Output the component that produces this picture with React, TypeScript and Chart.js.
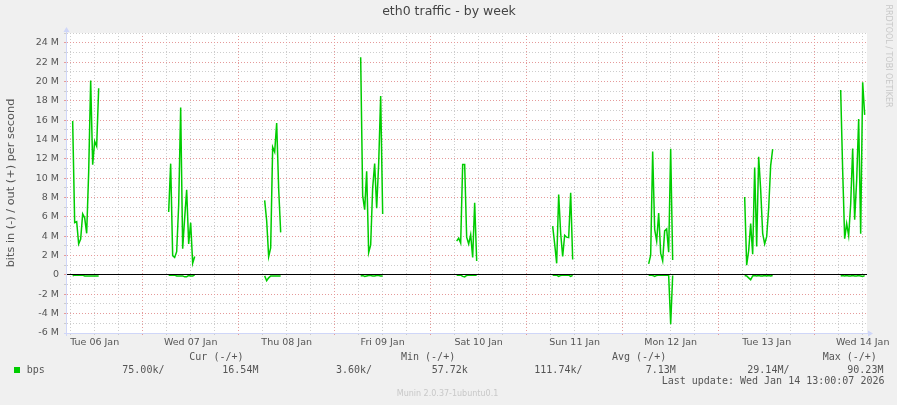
import React, { useEffect, useRef } from "react";
import { Chart, registerables } from "chart.js";

Chart.register(...registerables);

// ---------- data (values in Mbit/s, sampled every 30 min) ----------
const dayLabels = [
  "Tue 06 Jan", "Wed 07 Jan", "Thu 08 Jan", "Fri 09 Jan", "Sat 10 Jan",
  "Sun 11 Jan", "Mon 12 Jan", "Tue 13 Jan", "Wed 14 Jan",
];
// hours since Tue 06 Jan 00:00 at which each active period starts
const burstStartHours = [6.5, 30.5, 54.5, 78.5, 102.5, 126.5, 150.5, 174.5, 198.5];
const SAMPLE_STEP_HOURS = 0.5;

const outTue06 = [15.9, 5.4, 5.5, 3.2, 3.7, 6.3, 5.9, 4.3, 10.6, 20.1, 11.4, 13.8, 13.3, 19.3];
const outWed07 = [6.5, 11.5, 2.0, 1.8, 2.4, 7.2, 17.3, 2.7, 5.9, 8.8, 3.2, 5.4, 1.2, 1.9];
const outThu08 = [7.7, 5.6, 1.9, 2.8, 13.2, 12.7, 15.7, 8.9, 4.4];
const outFri09 = [22.5, 8.2, 6.75, 10.7, 2.3, 3.1, 9.0, 11.5, 6.9, 11.5, 18.5, 6.3];
const outSat10 = [3.5, 3.8, 3.3, 11.4, 11.4, 3.9, 3.2, 4.15, 1.8, 7.45, 1.45];
const outSun11 = [5.05, 3.2, 1.2, 8.3, 4.3, 1.9, 4.1, 3.9, 3.85, 8.5, 1.6];
const outMon12 = [1.15, 2.05, 12.75, 4.7, 3.5, 6.4, 2.25, 1.45, 4.55, 4.75, 2.35, 13.05, 1.55];
const outTue13 = [8.05, 1.0, 2.5, 5.3, 2.15, 11.1, 2.95, 12.2, 8.8, 4.3, 3.2, 3.95, 6.9, 11.3, 13.0];
const outWed14 = [19.1, 10.8, 3.75, 5.3, 4.05, 7.3, 13.05, 5.7, 9.8, 16.1, 4.25, 19.9, 16.54];

const inTue06 = [-0.1, -0.02, -0.02, -0.02, -0.02, -0.02, -0.1, -0.1, -0.1, -0.1, -0.1, -0.1, -0.1, -0.1];
const inWed07 = [-0.02, -0.02, -0.02, -0.02, -0.1, -0.1, -0.1, -0.1, -0.2, -0.2, -0.05, -0.1, -0.1, -0.02];
const inThu08 = [-0.1, -0.6, -0.3, -0.1, -0.1, -0.1, -0.1, -0.1, -0.1];
const inFri09 = [-0.1, -0.05, -0.15, -0.1, -0.05, -0.05, -0.1, -0.1, -0.05, -0.05, -0.1, -0.1];
const inSat10 = [-0.02, -0.02, -0.02, -0.15, -0.2, -0.05, -0.02, -0.02, -0.02, -0.02, -0.02];
const inSun11 = [-0.02, -0.02, -0.02, -0.15, -0.05, -0.02, -0.02, -0.02, -0.02, -0.15, -0.05];
const inMon12 = [-0.02, -0.02, -0.05, -0.15, -0.05, -0.02, -0.02, -0.02, -0.02, -0.02, -0.05, -5.1, -0.05];
const inTue13 = [-0.05, -0.1, -0.3, -0.5, -0.1, -0.05, -0.1, -0.05, -0.1, -0.1, -0.05, -0.1, -0.05, -0.1, -0.05];
const inWed14 = [-0.1, -0.05, -0.1, -0.05, -0.1, -0.1, -0.05, -0.1, -0.1, -0.05, -0.1, -0.15, -0.075];

const outBursts = [outTue06, outWed07, outThu08, outFri09, outSat10, outSun11, outMon12, outTue13, outWed14];
const inBursts = [inTue06, inWed07, inThu08, inFri09, inSat10, inSun11, inMon12, inTue13, inWed14];

const chartTitle = "eth0 traffic - by week";
const yAxisTitle = "bits in (-) / out (+) per second";
const sideText = "RRDTOOL / TOBI OETIKER";
const seriesName = "bps";
const legendHeaders = ["Cur (-/+)", "Min (-/+)", "Avg (-/+)", "Max (-/+)"];
const legendValues = ["75.00k/", "16.54M", "3.60k/", "57.72k", "111.74k/", "7.13M", "29.14M/", "90.23M"];
const lastUpdate = "Last update: Wed Jan 14 13:00:07 2026";
const footer = "Munin 2.0.37-1ubuntu0.1";

const X_MIN = 5.083;
const X_MAX = 205.083;
const Y_MIN = -6;
const Y_MAX = 25;

// ---------- styling ----------
const GREEN = "#00cc00";
const GRID_MINOR = "#cdcdcd";
const GRID_MAJOR = "#e59a9a";
const AXIS_COLOR = "#cfd6f8";
const FONT_COLOR = "#555555";

function buildSeries(bursts: number[][]) {
  const pts: { x: number; y: number | null }[] = [];
  bursts.forEach((vals, b) => {
    const start = burstStartHours[b];
    vals.forEach((v, k) => pts.push({ x: start + k * SAMPLE_STEP_HOURS, y: v }));
    pts.push({ x: start + vals.length * SAMPLE_STEP_HOURS, y: null });
  });
  return pts;
}

const muninPlugin = {
  id: "muninDecor",
  beforeDraw(chart: any) {
    const { ctx, chartArea: a, width, height } = chart;
    ctx.save();
    ctx.fillStyle = "#f0f0f0";
    ctx.fillRect(0, 0, width, height);
    ctx.fillStyle = "#ffffff";
    ctx.fillRect(a.left, a.top, a.right - a.left, a.bottom - a.top);
    ctx.restore();
  },
  afterDatasetsDraw(chart: any) {
    const { ctx, chartArea: a } = chart;
    const y0 = Math.round(chart.scales.y.getPixelForValue(0)) - 0.5;
    ctx.save();
    // zero line
    ctx.strokeStyle = "#000000";
    ctx.lineWidth = 1;
    ctx.setLineDash([]);
    ctx.beginPath();
    ctx.moveTo(a.left, y0);
    ctx.lineTo(a.right, y0);
    ctx.stroke();
    // axes
    ctx.strokeStyle = AXIS_COLOR;
    ctx.fillStyle = AXIS_COLOR;
    const ax = a.left - 0.5;
    const ay = a.bottom + 0.5;
    ctx.beginPath();
    ctx.moveTo(ax, a.bottom + 3);
    ctx.lineTo(ax, a.top - 2);
    ctx.moveTo(a.left - 3, ay);
    ctx.lineTo(a.right + 2, ay);
    ctx.stroke();
    ctx.beginPath();
    ctx.moveTo(ax, a.top - 6);
    ctx.lineTo(ax - 3, a.top - 1);
    ctx.lineTo(ax + 3, a.top - 1);
    ctx.closePath();
    ctx.fill();
    ctx.beginPath();
    ctx.moveTo(a.right + 6, ay);
    ctx.lineTo(a.right + 1, ay - 3);
    ctx.lineTo(a.right + 1, ay + 3);
    ctx.closePath();
    ctx.fill();
    ctx.restore();
  },
  afterDraw(chart: any) {
    const { ctx } = chart;
    ctx.save();
    ctx.textBaseline = "middle";
    // title
    ctx.fillStyle = "#444444";
    ctx.font = "12.5px 'DejaVu Sans'";
    ctx.textAlign = "center";
    ctx.fillText(chartTitle, 449, 12);
    // side text
    ctx.save();
    ctx.translate(888, 56);
    ctx.rotate(Math.PI / 2);
    ctx.fillStyle = "#c8c8c8";
    ctx.font = "8px 'DejaVu Sans'";
    ctx.fillText(sideText, 0, 0);
    ctx.restore();
    // legend
    ctx.textAlign = "left";
    ctx.fillStyle = FONT_COLOR;
    ctx.font = "10px 'DejaVu Sans Mono'";
    const headerX = [189.3, 401, 612, 822.7];
    legendHeaders.forEach((t, i) => ctx.fillText(t, headerX[i], 357.7));
    ctx.fillStyle = GREEN;
    ctx.fillRect(14, 367, 6, 6);
    ctx.fillStyle = FONT_COLOR;
    ctx.fillText(seriesName, 26.7, 370);
    const valueX = [122.3, 222.3, 336, 431.7, 534.3, 645.7, 747.3, 847.3];
    legendValues.forEach((t, i) => ctx.fillText(t, valueX[i], 370));
    ctx.fillText(lastUpdate, 661.7, 381.7);
    // footer
    ctx.textAlign = "center";
    ctx.fillStyle = "#c8c8c8";
    ctx.font = "8px 'DejaVu Sans'";
    ctx.fillText(footer, 447.5, 394);
    ctx.restore();
  },
};

export default function App() {
  const canvasRef = useRef<HTMLCanvasElement | null>(null);

  useEffect(() => {
    document.body.style.margin = "0";
    const canvas = canvasRef.current;
    if (!canvas) return;
    const gridHours: number[] = [];
    for (let h = 6; h <= X_MAX; h += 6) gridHours.push(h);

    const chart = new Chart(canvas, {
      type: "line",
      data: {
        datasets: [
          {
            label: "bps out",
            data: buildSeries(outBursts) as any,
            borderColor: GREEN,
            borderWidth: 1.5,
            pointRadius: 0,
            tension: 0,
            spanGaps: false,
            fill: false,
          },
          {
            label: "bps in",
            data: buildSeries(inBursts) as any,
            borderColor: GREEN,
            borderWidth: 1.5,
            pointRadius: 0,
            tension: 0,
            spanGaps: false,
            fill: false,
          },
        ],
      },
      options: {
        animation: false,
        responsive: false,
        devicePixelRatio: 1,
        layout: { padding: { top: 33, right: 30, bottom: 0, left: 0 } },
        plugins: {
          legend: { display: false },
          title: { display: false },
          tooltip: { enabled: false },
        },
        scales: {
          x: {
            type: "linear",
            min: X_MIN,
            max: X_MAX,
            afterBuildTicks: (scale: any) => {
              scale.ticks = gridHours.map((v) => ({ value: v }));
            },
            afterFit: (scale: any) => {
              scale.height = 72;
            },
            ticks: {
              autoSkip: false,
              maxRotation: 0,
              minRotation: 0,
              padding: 2,
              color: FONT_COLOR,
              font: { family: "'DejaVu Sans'", size: 9.5 },
              callback: (v: any) => {
                const n = Number(v);
                if (n % 24 === 12) return dayLabels[(n - 12) / 24] || "";
                return "";
              },
            },
            grid: {
              color: (c: any) => (c.tick && c.tick.value % 24 === 0 ? GRID_MAJOR : GRID_MINOR),
              tickColor: (c: any) => (c.tick && c.tick.value % 24 === 0 ? GRID_MAJOR : GRID_MINOR),
              lineWidth: 1,
              tickLength: 2,
              drawTicks: true,
            },
            border: { display: false, dash: [1, 2] },
          },
          y: {
            type: "linear",
            min: Y_MIN,
            max: Y_MAX,
            afterFit: (scale: any) => {
              scale.width = 67;
            },
            ticks: {
              stepSize: 1,
              autoSkip: false,
              padding: 5,
              color: FONT_COLOR,
              font: { family: "'DejaVu Sans'", size: 9.5 },
              callback: (v: any) => {
                const n = Number(v);
                if (n % 2 !== 0) return "";
                return n === 0 ? "0" : `${n} M`;
              },
            },
            grid: {
              color: (c: any) => (c.tick && c.tick.value % 2 === 0 ? GRID_MAJOR : GRID_MINOR),
              tickColor: (c: any) => (c.tick && c.tick.value % 2 === 0 ? GRID_MAJOR : GRID_MINOR),
              lineWidth: 1,
              tickLength: 3,
              drawTicks: true,
            },
            border: { display: false, dash: [1, 2] },
            title: {
              display: true,
              text: yAxisTitle,
              color: FONT_COLOR,
              font: { family: "'DejaVu Sans'", size: 11.3 },
              padding: { top: 4, bottom: 0 },
            },
          },
        },
      },
      plugins: [muninPlugin],
    } as any);

    return () => chart.destroy();
  }, []);

  return (
    <div style={{ width: 897, height: 405 }}>
      <canvas ref={canvasRef} width={897} height={405} style={{ display: "block" }} />
    </div>
  );
}
